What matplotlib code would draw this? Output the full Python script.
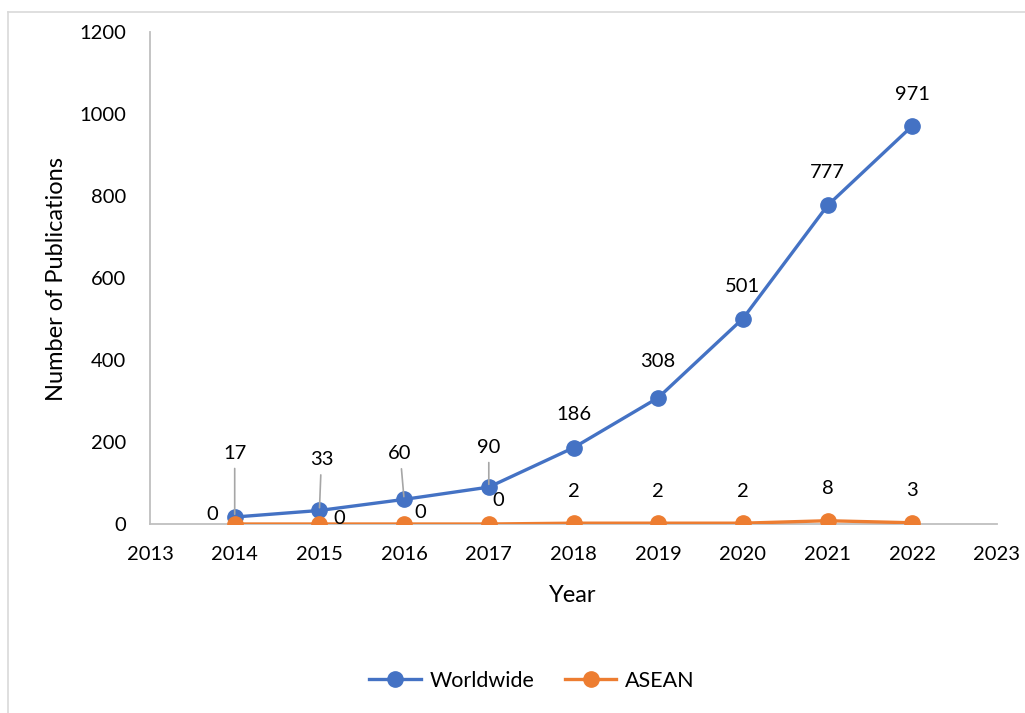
import matplotlib
matplotlib.use("Agg")
import matplotlib.pyplot as plt
from matplotlib.lines import Line2D

years = [2014, 2015, 2016, 2017, 2018, 2019, 2020, 2021, 2022]
worldwide = [17, 33, 60, 90, 186, 308, 501, 777, 971]
asean = [0, 0, 0, 0, 2, 2, 2, 8, 3]
x_ticks = list(range(2013, 2024))
y_ticks = [0, 200, 400, 600, 800, 1000, 1200]

# label offsets in pixels (dx, dy)
ww_offsets = [(0, 64), (2, 51), (-4, 46), (0, 40), (0, 33), (0, 36), (0, 32), (0, 33), (0, 31)]
ww_leader = [True, True, True, True, False, False, False, False, False]
as_offsets = [(-22, 9), (20, 5), (16, 11), (9, 24), (0, 32), (0, 32), (0, 32), (0, 32), (0, 32)]

blue = "#4472C4"
orange = "#ED7D31"
axis_gray = "#BFBFBF"

plt.rcParams['font.family'] = ['Lato', 'DejaVu Sans']
fs = 14.5
fs_lab = 17
fs_leg = 15.5

fig = plt.figure(figsize=(10.25, 7.13), dpi=100)
W, H = 1025, 713
ax = fig.add_axes([150 / W, 1 - 524 / H, (997 - 150) / W, (524 - 32) / H])

ax.plot(years, worldwide, color=blue, lw=2.4, marker='o', markersize=11, label='Worldwide', zorder=3)
ax.plot(years, asean, color=orange, lw=2.4, marker='o', markersize=11, label='ASEAN', zorder=4)

ax.set_xlim(2013, 2023)
ax.set_ylim(0, 1200)
ax.set_xticks(x_ticks)
ax.set_yticks(y_ticks)
ax.tick_params(length=0, labelsize=fs)
ax.tick_params(axis='x', pad=16)
ax.tick_params(axis='y', pad=17)
for s in ['top', 'right']:
    ax.spines[s].set_visible(False)
for s in ['left', 'bottom']:
    ax.spines[s].set_color(axis_gray)
    ax.spines[s].set_linewidth(1.3)

for x, v, off, lead in zip(years, worldwide, ww_offsets, ww_leader):
    kw = {}
    if lead:
        kw['arrowprops'] = dict(arrowstyle='-', color='#A6A6A6', lw=1.2, shrinkA=3, shrinkB=2)
    ax.annotate(str(v), (x, v), xytext=off, textcoords='offset pixels',
                ha='center', va='center', fontsize=fs, color='black', zorder=5, **kw)

for x, v, off in zip(years, asean, as_offsets):
    ax.annotate(str(v), (x, v), xytext=off, textcoords='offset pixels',
                ha='center', va='center', fontsize=fs, color='black', zorder=5)

fig.text(573 / W, 1 - 595 / H, 'Year', fontsize=fs_lab, ha='center', va='center')
fig.text(57 / W, 1 - 279 / H, 'Number of Publications', fontsize=fs_lab,
         ha='center', va='center', rotation=90)

fig.legend(loc='center', bbox_to_anchor=(532 / W, 1 - 681 / H), ncol=2, frameon=False,
           fontsize=fs_leg, handlelength=2.4, columnspacing=1.4, handletextpad=0.4)

# outer border (light gray)
fig.add_artist(Line2D([8 / W, 1], [1 - 12 / H, 1 - 12 / H], color='#D9D9D9', lw=1.2))
fig.add_artist(Line2D([8 / W, 8 / W], [0, 1 - 12 / H], color='#D9D9D9', lw=1.2))

fig.savefig('out.png', dpi=100)
